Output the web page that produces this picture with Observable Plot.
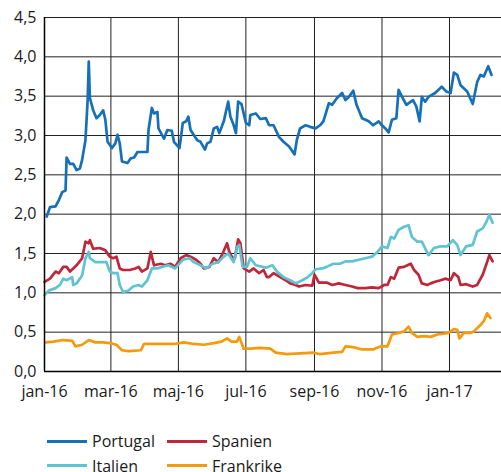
<!DOCTYPE html>
<html>
<head>
<meta charset="utf-8">
<script src="https://cdn.jsdelivr.net/npm/d3@7"></script>
<script src="https://cdn.jsdelivr.net/npm/@observablehq/plot@0.6"></script>
<style>
  html, body { margin: 0; padding: 0; background: #fff; }
  body { width: 501px; height: 472px; position: relative; overflow: hidden; font-family: "Open Sans", sans-serif; color: #1a1a1a; }
  #title { position: absolute; left: 43px; top: -10px; font-size: 16px; line-height: 16px; white-space: nowrap; }
  #chart { position: absolute; left: 0; top: 0; }
  #legend { position: absolute; left: 0; top: 431px; font-size: 16px; line-height: 20px; }
  .item { position: absolute; display: flex; align-items: center; white-space: nowrap; height: 20px; }
  .sw { width: 40px; height: 3px; margin-right: 5px; }
</style>
</head>
<body>
<div id="title">Procentenheter</div>
<div id="chart"></div>
<div id="legend"></div>
<script>
const seriesNames = ["Portugal", "Spanien", "Italien", "Frankrike"];
const seriesColors = ["#1570b8", "#c0263a", "#5ec3d2", "#f59a0c"];

const yTicks = [0, 0.5, 1, 1.5, 2, 2.5, 3, 3.5, 4, 4.5];
const yTickLabels = ["0,0", "0,5", "1,0", "1,5", "2,0", "2,5", "3,0", "3,5", "4,0", "4,5"];
const xTickDates = ["2016-01-01", "2016-03-01", "2016-05-01", "2016-07-01", "2016-09-01", "2016-11-01", "2017-01-01"];
const xTickLabels = ["jan-16", "mar-16", "maj-16", "jul-16", "sep-16", "nov-16", "jan-17"];
const xDomain = ["2016-01-01", "2017-02-17"];

const portugal = [["2016-01-03",1.97],["2016-01-06",2.09],["2016-01-11",2.10],["2016-01-14",2.18],["2016-01-17",2.28],["2016-01-20",2.30],["2016-01-21",2.72],["2016-01-24",2.64],["2016-01-27",2.64],["2016-01-30",2.56],["2016-02-02",2.58],["2016-02-04",2.69],["2016-02-07",2.94],["2016-02-09",3.45],["2016-02-10",3.94],["2016-02-11",3.48],["2016-02-14",3.32],["2016-02-17",3.22],["2016-02-20",3.26],["2016-02-23",3.32],["2016-02-25",3.20],["2016-02-27",2.92],["2016-03-02",2.84],["2016-03-05",2.90],["2016-03-07",3.01],["2016-03-09",2.90],["2016-03-11",2.67],["2016-03-16",2.65],["2016-03-19",2.71],["2016-03-22",2.72],["2016-03-25",2.79],["2016-04-03",2.79],["2016-04-04",3.07],["2016-04-07",3.35],["2016-04-09",3.28],["2016-04-12",3.30],["2016-04-13",3.09],["2016-04-18",2.96],["2016-04-21",3.07],["2016-04-25",3.06],["2016-04-27",2.92],["2016-05-02",2.84],["2016-05-05",3.16],["2016-05-08",3.18],["2016-05-10",3.24],["2016-05-12",3.07],["2016-05-18",2.94],["2016-05-21",2.92],["2016-05-25",2.82],["2016-05-27",2.90],["2016-05-30",2.92],["2016-06-02",3.09],["2016-06-05",3.11],["2016-06-07",3.03],["2016-06-11",3.18],["2016-06-15",3.43],["2016-06-17",3.24],["2016-06-20",3.13],["2016-06-22",3.03],["2016-06-24",3.43],["2016-06-27",3.40],["2016-07-01",3.16],["2016-07-04",3.13],["2016-07-05",3.26],["2016-07-10",3.28],["2016-07-14",3.21],["2016-07-19",3.22],["2016-07-22",3.13],["2016-07-26",3.13],["2016-07-31",2.98],["2016-08-04",2.92],["2016-08-09",2.86],["2016-08-14",2.76],["2016-08-16",2.94],["2016-08-19",3.09],["2016-08-24",3.13],["2016-08-28",3.11],["2016-09-02",3.09],["2016-09-06",3.13],["2016-09-09",3.18],["2016-09-14",3.41],["2016-09-17",3.39],["2016-09-21",3.47],["2016-09-26",3.54],["2016-09-29",3.45],["2016-10-02",3.49],["2016-10-06",3.57],["2016-10-09",3.39],["2016-10-14",3.22],["2016-10-20",3.18],["2016-10-24",3.13],["2016-10-29",3.18],["2016-11-01",3.13],["2016-11-04",3.09],["2016-11-07",3.04],["2016-11-10",3.20],["2016-11-14",3.22],["2016-11-16",3.58],["2016-11-20",3.47],["2016-11-23",3.39],["2016-11-29",3.45],["2016-12-02",3.37],["2016-12-05",3.18],["2016-12-07",3.49],["2016-12-10",3.43],["2016-12-13",3.49],["2016-12-19",3.54],["2016-12-25",3.62],["2016-12-29",3.56],["2017-01-02",3.54],["2017-01-05",3.80],["2017-01-08",3.77],["2017-01-11",3.64],["2017-01-17",3.56],["2017-01-22",3.40],["2017-01-26",3.68],["2017-01-29",3.77],["2017-02-01",3.75],["2017-02-05",3.88],["2017-02-08",3.77]];

const spanien = [["2016-01-01",1.14],["2016-01-06",1.18],["2016-01-11",1.27],["2016-01-14",1.25],["2016-01-18",1.33],["2016-01-21",1.33],["2016-01-24",1.27],["2016-01-27",1.31],["2016-01-30",1.35],["2016-02-04",1.44],["2016-02-07",1.65],["2016-02-10",1.63],["2016-02-11",1.67],["2016-02-14",1.56],["2016-02-20",1.57],["2016-02-25",1.54],["2016-02-29",1.46],["2016-03-03",1.44],["2016-03-06",1.46],["2016-03-09",1.31],["2016-03-12",1.29],["2016-03-18",1.29],["2016-03-23",1.31],["2016-03-26",1.33],["2016-03-29",1.27],["2016-04-03",1.31],["2016-04-06",1.52],["2016-04-09",1.35],["2016-04-15",1.37],["2016-04-19",1.35],["2016-04-24",1.37],["2016-04-28",1.33],["2016-05-03",1.44],["2016-05-08",1.48],["2016-05-12",1.46],["2016-05-17",1.42],["2016-05-21",1.37],["2016-05-24",1.31],["2016-05-29",1.33],["2016-06-02",1.44],["2016-06-06",1.39],["2016-06-10",1.50],["2016-06-14",1.63],["2016-06-16",1.52],["2016-06-19",1.44],["2016-06-21",1.44],["2016-06-24",1.68],["2016-06-26",1.63],["2016-06-29",1.31],["2016-07-04",1.27],["2016-07-08",1.31],["2016-07-13",1.25],["2016-07-17",1.29],["2016-07-20",1.20],["2016-07-22",1.20],["2016-07-26",1.25],["2016-08-01",1.20],["2016-08-06",1.16],["2016-08-10",1.12],["2016-08-15",1.10],["2016-08-18",1.08],["2016-08-24",1.10],["2016-08-30",1.09],["2016-09-01",1.23],["2016-09-05",1.13],["2016-09-12",1.13],["2016-09-17",1.10],["2016-09-23",1.12],["2016-09-29",1.10],["2016-10-05",1.08],["2016-10-10",1.06],["2016-10-17",1.06],["2016-10-23",1.07],["2016-10-29",1.06],["2016-11-03",1.10],["2016-11-06",1.10],["2016-11-09",1.20],["2016-11-12",1.18],["2016-11-16",1.32],["2016-11-21",1.33],["2016-11-24",1.35],["2016-11-27",1.37],["2016-11-30",1.29],["2016-12-04",1.23],["2016-12-07",1.12],["2016-12-12",1.10],["2016-12-15",1.12],["2016-12-19",1.14],["2016-12-24",1.16],["2016-12-28",1.18],["2017-01-02",1.16],["2017-01-05",1.25],["2017-01-09",1.20],["2017-01-11",1.10],["2017-01-16",1.11],["2017-01-22",1.08],["2017-01-26",1.10],["2017-01-31",1.23],["2017-02-03",1.35],["2017-02-06",1.48],["2017-02-09",1.40]];

const italien = [["2016-01-01",0.97],["2016-01-05",1.03],["2016-01-11",1.06],["2016-01-15",1.10],["2016-01-18",1.18],["2016-01-21",1.16],["2016-01-26",1.20],["2016-01-27",1.10],["2016-01-30",1.12],["2016-02-04",1.22],["2016-02-07",1.44],["2016-02-10",1.52],["2016-02-11",1.44],["2016-02-16",1.39],["2016-02-22",1.39],["2016-02-26",1.39],["2016-02-29",1.27],["2016-03-03",1.25],["2016-03-07",1.25],["2016-03-09",1.10],["2016-03-12",1.01],["2016-03-17",1.03],["2016-03-21",1.08],["2016-03-26",1.10],["2016-03-29",1.08],["2016-04-03",1.16],["2016-04-07",1.31],["2016-04-12",1.31],["2016-04-16",1.33],["2016-04-22",1.35],["2016-04-28",1.31],["2016-05-05",1.42],["2016-05-11",1.44],["2016-05-15",1.39],["2016-05-21",1.35],["2016-05-26",1.31],["2016-06-01",1.37],["2016-06-06",1.39],["2016-06-11",1.46],["2016-06-15",1.50],["2016-06-20",1.39],["2016-06-23",1.58],["2016-06-25",1.61],["2016-06-28",1.33],["2016-07-02",1.33],["2016-07-05",1.44],["2016-07-10",1.35],["2016-07-16",1.33],["2016-07-19",1.32],["2016-07-25",1.35],["2016-07-29",1.27],["2016-08-04",1.20],["2016-08-10",1.16],["2016-08-15",1.12],["2016-08-21",1.16],["2016-08-26",1.20],["2016-08-30",1.25],["2016-09-02",1.30],["2016-09-08",1.31],["2016-09-12",1.33],["2016-09-18",1.37],["2016-09-24",1.37],["2016-09-29",1.40],["2016-10-05",1.40],["2016-10-11",1.42],["2016-10-17",1.44],["2016-10-23",1.46],["2016-10-28",1.52],["2016-11-01",1.59],["2016-11-06",1.57],["2016-11-09",1.71],["2016-11-12",1.69],["2016-11-16",1.80],["2016-11-21",1.84],["2016-11-25",1.86],["2016-11-28",1.71],["2016-12-03",1.65],["2016-12-07",1.65],["2016-12-13",1.48],["2016-12-18",1.57],["2016-12-24",1.59],["2016-12-30",1.59],["2017-01-04",1.67],["2017-01-08",1.61],["2017-01-11",1.48],["2017-01-16",1.59],["2017-01-22",1.61],["2017-01-26",1.78],["2017-01-31",1.82],["2017-02-03",1.89],["2017-02-06",1.99],["2017-02-09",1.89]];

const frankrike = [["2016-01-02",0.37],["2016-01-09",0.38],["2016-01-18",0.40],["2016-01-26",0.39],["2016-01-29",0.32],["2016-02-04",0.34],["2016-02-10",0.40],["2016-02-16",0.37],["2016-02-23",0.37],["2016-02-29",0.36],["2016-03-06",0.34],["2016-03-11",0.27],["2016-03-17",0.26],["2016-03-28",0.27],["2016-03-31",0.35],["2016-04-09",0.35],["2016-04-18",0.35],["2016-04-27",0.35],["2016-05-06",0.37],["2016-05-15",0.35],["2016-05-24",0.34],["2016-06-02",0.36],["2016-06-09",0.38],["2016-06-14",0.42],["2016-06-18",0.38],["2016-06-23",0.38],["2016-06-25",0.44],["2016-06-29",0.29],["2016-07-05",0.29],["2016-07-14",0.30],["2016-07-23",0.29],["2016-07-28",0.24],["2016-08-07",0.22],["2016-08-19",0.23],["2016-08-31",0.24],["2016-09-06",0.22],["2016-09-18",0.24],["2016-09-26",0.25],["2016-09-29",0.32],["2016-10-06",0.31],["2016-10-14",0.28],["2016-10-24",0.28],["2016-10-31",0.32],["2016-11-06",0.32],["2016-11-10",0.47],["2016-11-16",0.49],["2016-11-21",0.51],["2016-11-25",0.57],["2016-11-28",0.49],["2016-12-03",0.44],["2016-12-09",0.45],["2016-12-15",0.44],["2016-12-21",0.47],["2016-12-27",0.48],["2016-12-31",0.49],["2017-01-05",0.54],["2017-01-08",0.53],["2017-01-10",0.42],["2017-01-14",0.49],["2017-01-20",0.49],["2017-01-23",0.51],["2017-01-29",0.59],["2017-02-01",0.64],["2017-02-04",0.74],["2017-02-07",0.68]];

const parse = d3.utcParse("%Y-%m-%d");
const seriesData = [portugal, spanien, italien, frankrike];
const rows = [];
seriesData.forEach((s, i) => s.forEach(([d, v]) => rows.push({date: parse(d), value: v, series: seriesNames[i]})));
const xTicks = xTickDates.map(parse);
const xLabelMap = new Map(xTicks.map((d, i) => [+d, xTickLabels[i]]));
const yLabelMap = new Map(yTicks.map((t, i) => [t, yTickLabels[i]]));

const chart = Plot.plot({
  width: 501,
  height: 410,
  marginTop: 17,
  marginBottom: 39,
  marginLeft: 44,
  marginRight: 0,
  style: {fontFamily: "Open Sans, sans-serif", fontSize: "16px", color: "#1a1a1a", background: "white", overflow: "visible"},
  x: {type: "utc", domain: xDomain.map(parse)},
  y: {domain: [0, 4.5]},
  color: {domain: seriesNames, range: seriesColors},
  marks: [
    Plot.ruleY(yTicks, {stroke: "#222", strokeWidth: 1}),
    Plot.ruleX(xTicks, {stroke: "#222", strokeWidth: 1}),
    Plot.line(rows, {x: "date", y: "value", z: "series", stroke: "series", strokeWidth: 2.7, strokeLinejoin: "round", strokeLinecap: "round"}),
    Plot.ruleX([parse(xDomain[0])], {stroke: "#000", strokeWidth: 1.5}),
    Plot.ruleY([0], {stroke: "#000", strokeWidth: 1.5}),
    Plot.axisY({ticks: yTicks, tickSize: 0, tickPadding: 8, tickFormat: t => yLabelMap.get(t), label: null}),
    Plot.axisX({ticks: xTicks, tickSize: 0, tickPadding: 14, tickFormat: d => xLabelMap.get(+d), label: null})
  ]
});
document.getElementById("chart").appendChild(chart);

const legendPos = [[47, 0], [167, 0], [47, 24.5], [167, 24.5]];
const legend = document.getElementById("legend");
seriesNames.forEach((n, i) => {
  const it = document.createElement("div");
  it.className = "item";
  it.style.left = legendPos[i][0] + "px";
  it.style.top = legendPos[i][1] + "px";
  const sw = document.createElement("span");
  sw.className = "sw";
  sw.style.background = seriesColors[i];
  const tx = document.createElement("span");
  tx.textContent = n;
  it.appendChild(sw);
  it.appendChild(tx);
  legend.appendChild(it);
});
</script>
</body>
</html>
